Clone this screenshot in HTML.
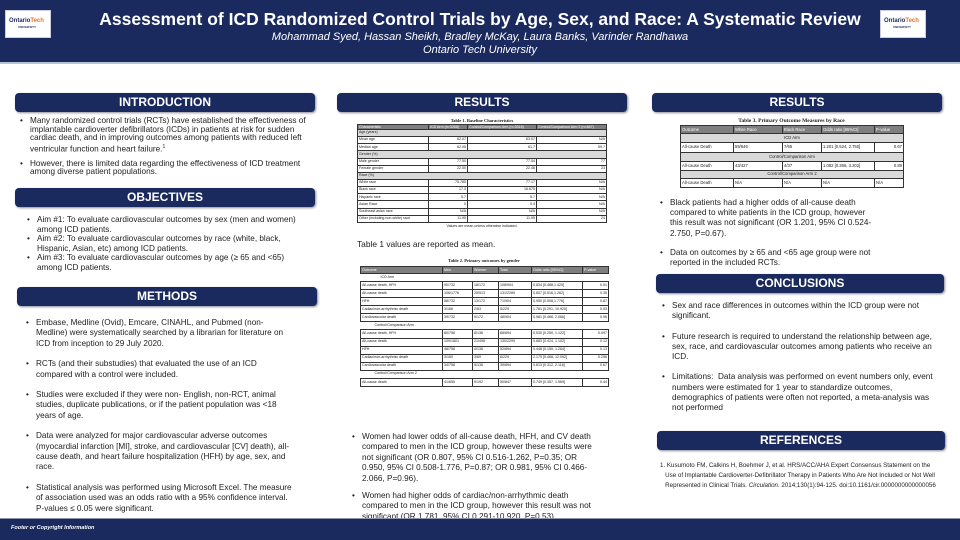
<!DOCTYPE html>
<html><head><meta charset="utf-8"><style>
*{margin:0;padding:0;box-sizing:border-box}
body{width:960px;height:540px;position:relative;background:#fff;font-family:"Liberation Sans",Arial,sans-serif;color:#222;overflow:hidden}
.a{position:absolute}
#hdr{left:0;top:0;width:960px;height:64px;background:#1b2a5e;border-bottom:2px solid #b9c2d4}
.logo{background:#fff;width:46px;height:28px;top:10px;border:1px solid #ccd;font-size:6px;font-weight:bold;color:#1b2a5e;padding:7px 2px 0 3px;line-height:6px}
.logo b{color:#e8722a}
.logo i{display:block;font-size:3px;font-style:normal;color:#1b2a5e;margin-left:9px}
.sh{background:#1b2a5e;color:#fff;font-weight:bold;font-size:12px;text-align:center;border-radius:4px;box-shadow:1px 1px 2px #889;line-height:19px;height:19px}
.t{font-size:8.2px;white-space:nowrap;line-height:8.5px}
.bl{position:relative;padding-left:10px}
.bl:before{content:"•";position:absolute;left:0;top:0}
table{border-collapse:collapse;font-family:"Liberation Sans",sans-serif;font-size:3.6px;table-layout:fixed;background:#fff}
td{border:0.6px solid #333;padding:0 1px;white-space:nowrap;overflow:hidden;line-height:1}
th{background:#7f7f7f;color:#fff;font-weight:normal;border:0.6px solid #333;text-align:left;padding:0 1px;white-space:nowrap;overflow:hidden}
.g td{background:#d9d9d9}
.r{text-align:right}
.cap{font-family:"Liberation Serif",serif;font-weight:bold;font-size:4.5px;text-align:center;height:6px}
</style></head><body>
<div id="hdr" class="a"></div>
<div class="a logo" style="left:5px">Ontario<b>Tech</b><i>UNIVERSITY</i></div>
<div class="a logo" style="left:880px">Ontario<b>Tech</b><i>UNIVERSITY</i></div>
<div class="a" style="left:0;width:960px;top:9px;text-align:center;color:#fff;font-weight:bold;font-size:17.5px">Assessment of ICD Randomized Control Trials by Age, Sex, and Race: A Systematic Review</div>
<div class="a" style="left:0;width:960px;top:31px;text-align:center;color:#fff;font-style:italic;font-size:11px;line-height:13px">Mohammad Syed, Hassan Sheikh, Bradley McKay, Laura Banks, Varinder Randhawa<br>Ontario Tech University</div>

<!-- left column -->
<div class="a sh" style="left:15px;top:93px;width:300px">INTRODUCTION</div>
<div class="a t" style="left:20px;top:117px">
<div class="bl">Many randomized control trials (RCTs) have established the effectiveness of<br>implantable cardioverter defibrillators (ICDs) in patients at risk for sudden<br>cardiac death, and in improving outcomes among patients with reduced left<br>ventricular function and heart failure.<sup style="font-size:5px">1</sup></div>
<div class="bl" style="margin-top:6px">However, there is limited data regarding the effectiveness of ICD treatment<br>among diverse patient populations.</div>
</div>
<div class="a sh" style="left:15px;top:188px;width:300px">OBJECTIVES</div>
<div class="a t" style="left:27px;top:215px;line-height:9.5px">
<div class="bl">Aim #1: To evaluate cardiovascular outcomes by sex (men and women)<br>among ICD patients.</div>
<div class="bl">Aim #2: To evaluate cardiovascular outcomes by race (white, black,<br>Hispanic, Asian, etc) among ICD patients.</div>
<div class="bl">Aim #3: To evaluate cardiovascular outcomes by age (≥ 65 and &lt;65)<br>among ICD patients.</div>
</div>
<div class="a sh" style="left:17px;top:287px;width:300px">METHODS</div>
<div class="a t" style="left:26px;top:318px;line-height:10.4px">
<div class="bl">Embase, Medline (Ovid), Emcare, CINAHL, and Pubmed (non-<br>Medline) were systematically searched by a librarian for literature on<br>ICD from inception to 29 July 2020.</div>
<div class="bl" style="margin-top:10px">RCTs (and their substudies) that evaluated the use of an ICD<br>compared with a control were included.</div>
<div class="bl" style="margin-top:10px">Studies were excluded if they were non- English, non-RCT, animal<br>studies, duplicate publications, or if the patient population was &lt;18<br>years of age.</div>
<div class="bl" style="margin-top:10px">Data were analyzed for major cardiovascular adverse outcomes<br>(myocardial infarction [MI], stroke, and cardiovascular [CV] death), all-<br>cause death, and heart failure hospitalization (HFH) by age, sex, and<br>race.</div>
<div class="bl" style="margin-top:10px">Statistical analysis was performed using Microsoft Excel. The measure<br>of association used was an odds ratio with a 95% confidence interval.<br>P-values ≤ 0.05 were significant.</div>
</div>

<!-- middle -->
<div class="a sh" style="left:337px;top:93px;width:290px">RESULTS</div>
<div class="a" style="left:357px;top:118px;width:250px">
<div class="cap">Table 1. Baseline Characteristics</div>
<table style="width:249px">
<colgroup><col style="width:71px"><col style="width:39px"><col style="width:69px"><col style="width:70px"></colgroup>
<tr style="height:5px"><th>Characteristic</th><th>ICD Arm (n=3268)</th><th>Control/Comparison Arm (n=3018)</th><th>Control/Comparison Arm 2 (n=847)</th></tr>
<tr class="g" style="height:7.15px"><td colspan="4">Age (years)</td></tr>
<tr style="height:7.15px"><td>Mean age</td><td class="r">62.07</td><td class="r">63.07</td><td class="r">N/A</td></tr>
<tr style="height:7.15px"><td>Median age</td><td class="r">62.05</td><td class="r">61.7</td><td class="r">59.7</td></tr>
<tr class="g" style="height:7.15px"><td colspan="4">Gender (%)</td></tr>
<tr style="height:7.15px"><td>Male gender</td><td class="r">77.50</td><td class="r">77.54</td><td class="r">77</td></tr>
<tr style="height:7.15px"><td>Female gender</td><td class="r">22.50</td><td class="r">22.46</td><td class="r">23</td></tr>
<tr class="g" style="height:7.15px"><td colspan="4">Race (%)</td></tr>
<tr style="height:7.15px"><td>White race</td><td class="r">75.785</td><td class="r">77.17</td><td class="r">N/A</td></tr>
<tr style="height:7.15px"><td>Black race</td><td class="r">17.3</td><td class="r">16.675</td><td class="r">N/A</td></tr>
<tr style="height:7.15px"><td>Hispanic race</td><td class="r">5.7</td><td class="r">5.7</td><td class="r">N/A</td></tr>
<tr style="height:7.15px"><td>Asian Race</td><td class="r">0</td><td class="r">0.4</td><td class="r">N/A</td></tr>
<tr style="height:7.15px"><td>Southeast asian race</td><td class="r">N/A</td><td class="r">N/A</td><td class="r">N/A</td></tr>
<tr style="height:7.15px"><td>Other (including non-white) race</td><td class="r">11.95</td><td class="r">11.95</td><td class="r">24</td></tr>
</table>
<div style="font-size:3.6px;text-align:center;margin-top:1px">Values are mean unless otherwise indicated.</div>
</div>
<div class="a" style="left:357px;top:239px;font-size:8.4px">Table 1 values are reported as mean.</div>
<div class="a" style="left:360px;top:258px;width:248px">
<div class="cap" style="height:8px">Table 2. Primary outcomes by gender</div>
<table style="width:248px">
<colgroup><col style="width:82px"><col style="width:30px"><col style="width:26px"><col style="width:33px"><col style="width:51px"><col style="width:26px"></colgroup>
<tr style="height:7px"><th>Outcome</th><th>Men</th><th>Women</th><th>Total</th><th>Odds ratio [95%CI]</th><th>P-value</th></tr>
<tr style="height:8.07px"><td colspan="6" style="border:none;padding-left:20px">ICD Arm</td></tr>
<tr style="height:8.07px"><td>All-cause death, HFH</td><td>90/732</td><td>18/172</td><td>108/904</td><td>0.834 [0.488,1.425]</td><td class="r">0.51</td></tr>
<tr style="height:8.07px"><td>All-cause death</td><td>106/1776</td><td>25/513</td><td>131/2289</td><td>0.807 [0.516,1.262]</td><td class="r">0.35</td></tr>
<tr style="height:8.07px"><td>HFH</td><td>58/732</td><td>13/172</td><td>71/904</td><td>0.950 [0.508,1.776]</td><td class="r">0.87</td></tr>
<tr style="height:8.07px"><td>Cadiac/non-arrhythmic death</td><td>3/166</td><td>2/63</td><td>5/229</td><td>1.781 [0.291, 10.920]</td><td class="r">0.53</td></tr>
<tr style="height:8.07px"><td>Cardiovascular death</td><td>39/732</td><td>9/172</td><td>48/904</td><td>0.981 [0.466, 2.066]</td><td class="r">0.96</td></tr>
<tr style="height:8.07px"><td colspan="6" style="border:none;padding-left:14px">Control/Comparison Arm</td></tr>
<tr style="height:8.07px"><td>All-cause death, HFH</td><td>80/758</td><td>8/136</td><td>88/894</td><td>0.530 [0.250, 1.122]</td><td class="r">0.097</td></tr>
<tr style="height:8.07px"><td>All-cause death</td><td>109/1801</td><td>21/498</td><td>130/2299</td><td>0.683 [0.424, 1.102]</td><td class="r">0.12</td></tr>
<tr style="height:8.07px"><td>HFH</td><td>48/758</td><td>4/136</td><td>52/894</td><td>0.448 [0.159, 1.264]</td><td class="r">0.13</td></tr>
<tr style="height:8.07px"><td>Cadiac/non-arrhythmic death</td><td>3/160</td><td>3/69</td><td>6/229</td><td>2.179 [0.468, 12.092]</td><td class="r">0.296</td></tr>
<tr style="height:8.07px"><td>Cardiovascular death</td><td>34/758</td><td>5/136</td><td>39/894</td><td>0.813 [0.312, 2.116]</td><td class="r">0.67</td></tr>
<tr style="height:8.07px"><td colspan="6" style="border:none;padding-left:14px">Control/Comparison Arm 2</td></tr>
<tr style="height:8.07px"><td>All-cause death</td><td>41/655</td><td>9/192</td><td>50/847</td><td>0.749 [0.357, 1.569]</td><td class="r">0.44</td></tr>
</table>
</div>
<div class="a t" style="left:352px;top:432px;line-height:10.4px">
<div class="bl">Women had lower odds of all-cause death, HFH, and CV death<br>compared to men in the ICD group, however these results were<br>not significant (OR 0.807, 95% CI 0.516-1.262, P=0.35; OR<br>0.950, 95% CI 0.508-1.776, P=0.87; OR 0.981, 95% CI 0.466-<br>2.066, P=0.96).</div>
<div class="bl" style="margin-top:7px">Women had higher odds of cardiac/non-arrhythmic death<br>compared to men in the ICD group, however this result was not<br>significant (OR 1.781, 95% CI 0.291-10.920, P=0.53).</div>
</div>

<!-- right -->
<div class="a sh" style="left:652px;top:93px;width:290px">RESULTS</div>
<div class="a" style="left:680px;top:117px;width:223px">
<div class="cap" style="height:8px;font-size:5.5px;line-height:8px">Table 3. Primary Outcome Measures by Race</div>
<table style="width:223px;font-size:4.2px">
<colgroup><col style="width:53px"><col style="width:49px"><col style="width:39px"><col style="width:53px"><col style="width:29px"></colgroup>
<tr style="height:8px"><th>Outcome</th><th>White Race</th><th>Black Race</th><th>Odds ratio [95%CI]</th><th>P-value</th></tr>
<tr class="g" style="height:9px"><td colspan="5" style="text-align:center">ICD Arm</td></tr>
<tr style="height:10px"><td>All-cause Death</td><td>59/646</td><td>7/65</td><td>1.201 [0.524, 2.750]</td><td class="r">0.67</td></tr>
<tr class="g" style="height:9px"><td colspan="5" style="text-align:center">Control/Comparison Arm</td></tr>
<tr style="height:9px"><td>All-cause Death</td><td>43/427</td><td>4/37</td><td>1.082 [0.366, 3.202]</td><td class="r">0.89</td></tr>
<tr class="g" style="height:8px"><td colspan="5" style="text-align:center">Control/Comparison Arm 2</td></tr>
<tr style="height:9px"><td>All-cause Death</td><td>N/A</td><td>N/A</td><td>N/A</td><td>N/A</td></tr>
</table>
</div>
<div class="a t" style="left:660px;top:198px;line-height:10.2px">
<div class="bl">Black patients had a higher odds of all-cause death<br>compared to white patients in the ICD group, however<br>this result was not significant (OR 1.201, 95% CI 0.524-<br>2.750, P=0.67).</div>
<div class="bl" style="margin-top:9px">Data on outcomes by ≥ 65 and &lt;65 age group were not<br>reported in the included RCTs.</div>
</div>
<div class="a sh" style="left:656px;top:274px;width:288px">CONCLUSIONS</div>
<div class="a t" style="left:662px;top:301px;line-height:10.3px">
<div class="bl">Sex and race differences in outcomes within the ICD group were not<br>significant.</div>
<div class="bl" style="margin-top:10px">Future research is required to understand the relationship between age,<br>sex, race, and cardiovascular outcomes among patients who receive an<br>ICD.</div>
<div class="bl" style="margin-top:10px">Limitations:&nbsp; Data analysis was performed on event numbers only, event<br>numbers were estimated for 1 year to standardize outcomes,<br>demographics of patients were often not reported, a meta-analysis was<br>not performed</div>
</div>
<div class="a sh" style="left:657px;top:431px;width:288px">REFERENCES</div>
<div class="a" style="left:660px;top:461px;font-size:6.2px;line-height:10px;white-space:nowrap">1. Kusumoto FM, Calkins H, Boehmer J, et al. HRS/ACC/AHA Expert Consensus Statement on the<br>&nbsp;&nbsp;&nbsp;Use of Implantable Cardioverter-Defibrillator Therapy in Patients Who Are Not Included or Not Well<br>&nbsp;&nbsp;&nbsp;Represented in Clinical Trials. <i>Circulation</i>. 2014;130(1):94-125. doi:10.1161/cir.0000000000000056</div>

<div class="a" style="left:0;top:518px;width:960px;height:22px;background:#1b2a5e;border-top:1px solid #8a94ad"></div>
<div class="a" style="left:11px;top:525px;color:#fff;font-size:5.5px;font-weight:bold;font-style:italic">Footer or Copyright Information</div>
</body></html>
